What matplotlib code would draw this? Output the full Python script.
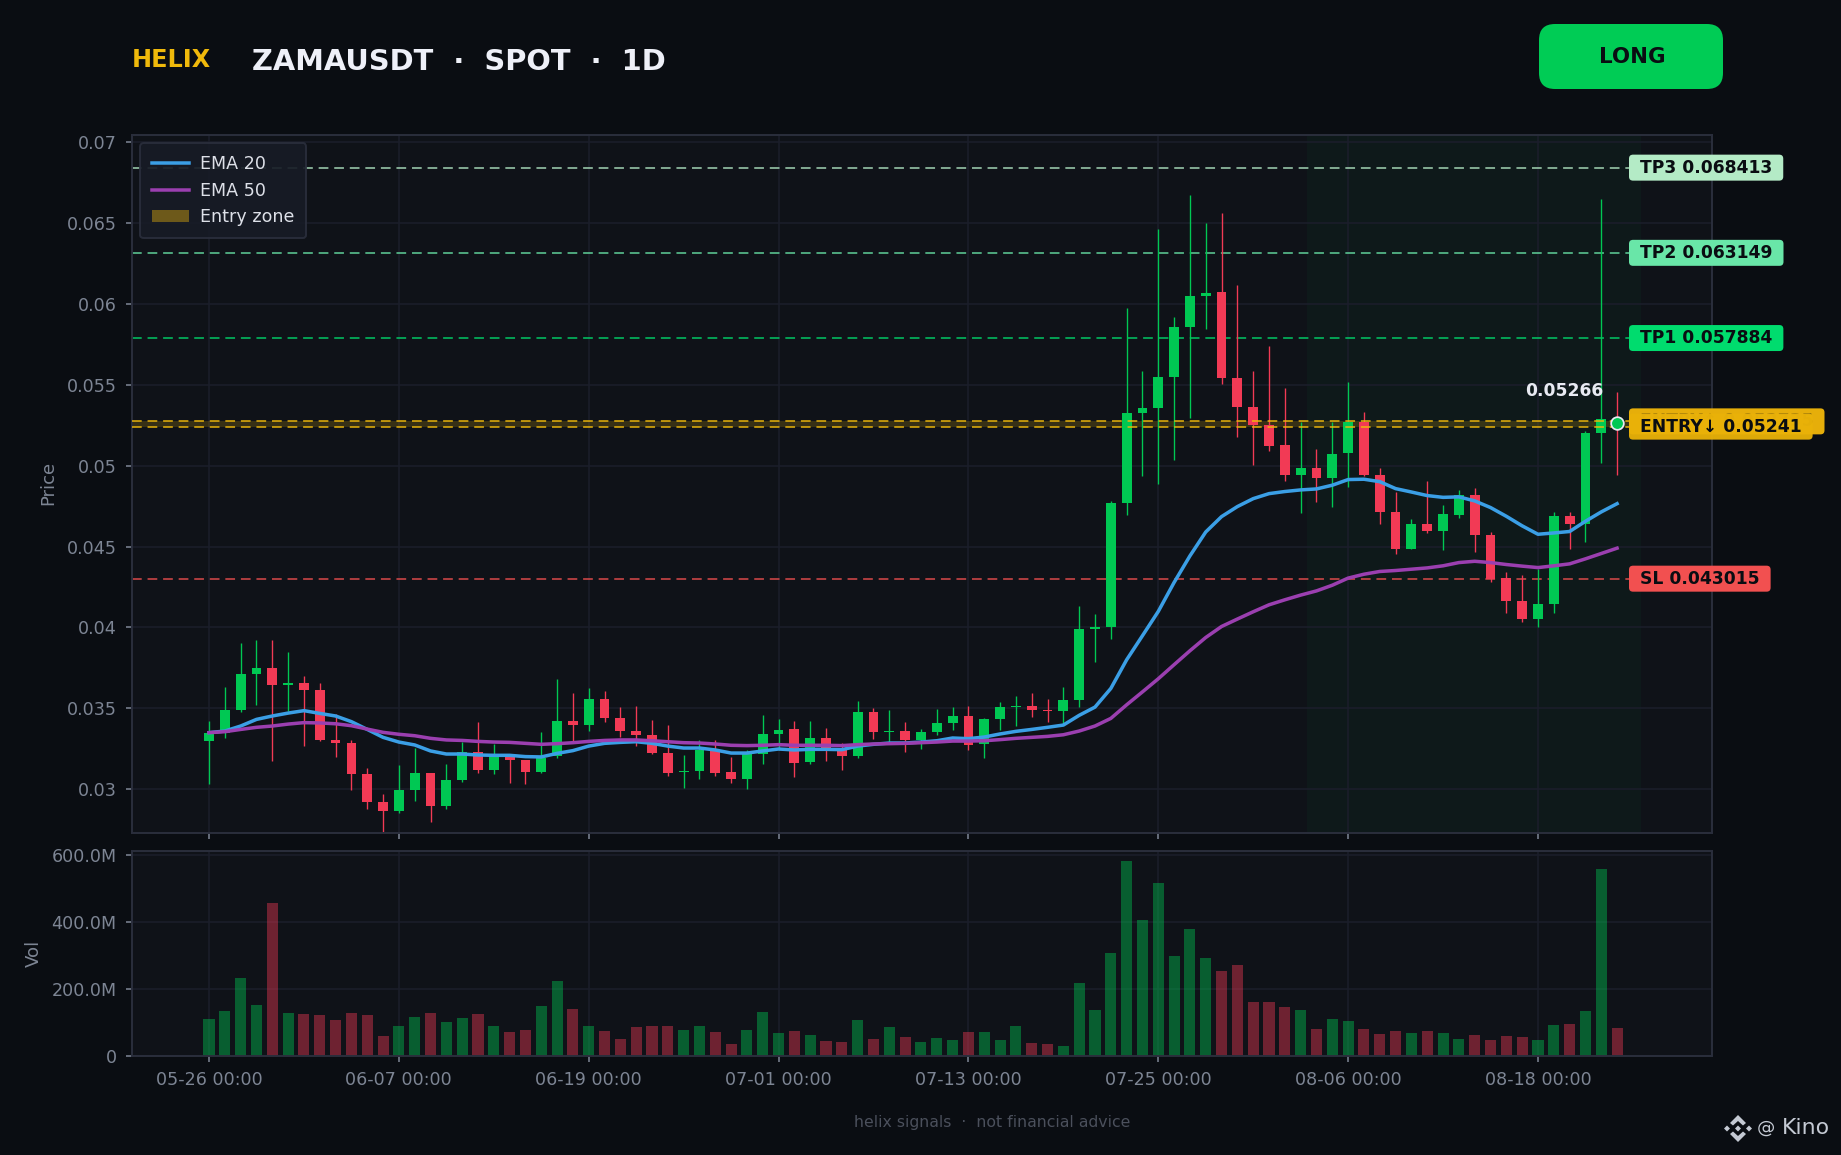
import matplotlib
matplotlib.use("Agg")
import matplotlib.pyplot as plt
from matplotlib.patches import FancyBboxPatch, Polygon, Patch
from matplotlib.lines import Line2D
from matplotlib.transforms import IdentityTransform

W, H, DPI = 1841, 1155, 140

opens = [.03300,.03346,.03490,.03712,.03749,.03646,.03656,.03613,.03305,.03286,.03095,.02922,.02866,.02996,.03101,.02897,.03058,.03230,.03119,.03212,
         .03181,.03107,.03206,.03422,.03397,.03558,.03440,.03360,.03335,.03224,.03107,.03113,.03243,.03107,.03064,.03218,.03342,.03372,.03169,.03317,
         .03253,.03206,.03477,.03354,.03360,.03305,.03354,.03410,.03453,.03280,.03434,.03508,.03514,.03490,.03484,.03551,.03990,.04002,.04768,.05323,
         .05354,.05545,.05854,.06051,.06070,.05539,.05360,.05249,.05126,.04940,.04984,.04922,.05076,.05267,.04940,.04712,.04484,.04638,.04595,.04693,
         .04817,.04570,.04304,.04163,.04051,.04144,.04687,.04638,.05200,.05286]
closes = [.03346,.03490,.03712,.03749,.03644,.03656,.03613,.03305,.03286,.03095,.02922,.02866,.02996,.03101,.02897,.03058,.03230,.03119,.03212,.03181,
          .03107,.03193,.03422,.03397,.03558,.03440,.03360,.03335,.03224,.03101,.03113,.03243,.03101,.03064,.03218,.03342,.03366,.03163,.03317,.03253,
          .03206,.03477,.03354,.03360,.03305,.03354,.03410,.03453,.03274,.03434,.03508,.03514,.03490,.03484,.03551,.03990,.04002,.04768,.05323,.05354,
          .05545,.05854,.06051,.06064,.05539,.05360,.05249,.05120,.04940,.04984,.04922,.05070,.05267,.04940,.04712,.04484,.04638,.04595,.04700,.04817,
          .04570,.04302,.04163,.04051,.04144,.04687,.04638,.05200,.05286,.05266]
highs = [.03422,.03630,.03903,.03922,.03922,.03848,.03700,.03656,.03465,.03305,.03132,.02971,.03150,.03255,.03101,.03156,.03292,.03416,.03280,.03212,
         .03181,.03354,.03681,.03595,.03626,.03607,.03508,.03514,.03428,.03397,.03212,.03305,.03305,.03200,.03243,.03459,.03434,.03422,.03422,.03379,
         .03284,.03545,.03502,.03490,.03416,.03372,.03496,.03508,.03514,.03440,.03539,.03576,.03595,.03558,.03632,.04130,.04082,.04780,.05977,.05582,
         .06465,.05916,.06675,.06502,.06558,.06119,.05582,.05737,.05477,.05267,.05101,.05267,.05514,.05329,.04984,.04835,.04669,.04903,.04755,.04848,
         .04860,.04588,.04342,.04323,.04360,.04712,.04712,.05212,.06650,.05453]
lows = [.03035,.03319,.03480,.03521,.03175,.03484,.03267,.03298,.03200,.02996,.02879,.02737,.02854,.02928,.02798,.02879,.03045,.03101,.03095,.03039,
        .03033,.03101,.03193,.03292,.03360,.03416,.03323,.03267,.03218,.03082,.03008,.03064,.03082,.03039,.03002,.03156,.03243,.03076,.03156,.03175,
        .03119,.03193,.03311,.03280,.03230,.03249,.03335,.03366,.03243,.03193,.03366,.03391,.03447,.03416,.03403,.03508,.03786,.03928,.04693,.04934,
        .04885,.05033,.05292,.05842,.05502,.05175,.05002,.05088,.04903,.04706,.04774,.04743,.04866,.04934,.04638,.04453,.04484,.04582,.04477,.04675,
        .04465,.04280,.04088,.04033,.04002,.04088,.04484,.04527,.05014,.04940]
volumes = [111,135,231,153,455,129,126,123,108,129,123,61,88,117,129,102,114,126,90,72,
           78,150,225,141,88,76,52,85,88,88,78,88,72,37,78,132,70,76,64,46,
           43,108,52,85,58,43,55,49,73,73,49,88,40,37,31,219,138,308,580,404,
           517,297,380,293,252,270,162,162,147,138,79,111,105,79,67,76,70,76,70,52,
           64,49,61,58,49,91,94,135,556,82]
ema20 = [.03350,.03360,.03391,.03432,.03453,.03471,.03486,.03469,.03453,.03418,.03370,.03321,.03292,.03274,.03237,.03218,.03218,.03212,.03210,.03210,
         .03202,.03200,.03222,.03239,.03267,.03284,.03290,.03294,.03284,.03267,.03255,.03255,.03243,.03224,.03224,.03237,.03249,.03243,.03247,.03247,
         .03245,.03267,.03278,.03286,.03286,.03292,.03300,.03317,.03313,.03323,.03342,.03358,.03370,.03383,.03397,.03457,.03508,.03623,.03800,.03949,
         .04099,.04278,.04442,.04590,.04685,.04747,.04796,.04827,.04840,.04850,.04856,.04879,.04914,.04916,.04901,.04858,.04837,.04815,.04804,.04807,
         .04782,.04741,.04687,.04628,.04576,.04584,.04593,.04656,.04714,.04765]
ema50 = [.03350,.03356,.03370,.03383,.03391,.03403,.03412,.03410,.03405,.03393,.03372,.03352,.03340,.03331,.03315,.03305,.03302,.03296,.03292,.03290,
         .03284,.03278,.03282,.03288,.03296,.03302,.03305,.03305,.03300,.03294,.03288,.03286,.03280,.03272,.03270,.03272,.03276,.03272,.03272,.03272,
         .03270,.03276,.03280,.03282,.03284,.03288,.03292,.03298,.03298,.03300,.03307,.03315,.03321,.03327,.03337,.03360,.03391,.03438,.03522,.03602,
         .03683,.03770,.03856,.03938,.04006,.04052,.04097,.04140,.04171,.04200,.04226,.04261,.04305,.04329,.04346,.04352,.04360,.04368,.04381,.04401,
         .04409,.04401,.04389,.04379,.04370,.04381,.04393,.04424,.04457,.04490]

tick_idx = [0, 12, 24, 36, 48, 60, 72, 84]
tick_labels = ["05-26 00:00", "06-07 00:00", "06-19 00:00", "07-01 00:00",
               "07-13 00:00", "07-25 00:00", "08-06 00:00", "08-18 00:00"]
price_ticks = [.03, .035, .04, .045, .05, .055, .06, .065, .07]
price_tick_labels = ["0.03", "0.035", "0.04", "0.045", "0.05", "0.055", "0.06", "0.065", "0.07"]
vol_ticks = [0, 200, 400, 600]
vol_tick_labels = ["0", "200.0M", "400.0M", "600.0M"]

tp3, tp2, tp1, sl = 0.068413, 0.063149, 0.057884, 0.043015
entry_hi, entry_lo = 0.052735, 0.05241
last_price = 0.05266

BG = "#0A0D12"; PANEL = "#0F1218"; GRID = "#1B1E2B"; SPINE = "#2A2E3C"; TICK = "#7D8594"
UP = "#00C853"; DOWN = "#F23A55"; GOLD = "#F0B90B"
C_TP3 = "#B4EBC6"; C_TP2 = "#69E6A8"; C_TP1 = "#00DC6E"; C_SL = "#F25050"; INK = "#0A0D12"

plt.rcParams["font.family"] = "DejaVu Sans"
fig = plt.figure(figsize=(W / DPI, H / DPI), dpi=DPI, facecolor=BG)

def rect(l, t, r, b):
    return [l / W, 1 - b / H, (r - l) / W, (b - t) / H]

ax = fig.add_axes(rect(131.5, 135, 1712, 833))
vx = fig.add_axes(rect(131.5, 851, 1712, 1056))
xs = list(range(len(closes)))
colors = [UP if c >= o else DOWN for o, c in zip(opens, closes)]

for a in (ax, vx):
    a.set_facecolor(PANEL)
    a.set_xlim(-4.9, 95)
    a.grid(True, color=GRID, lw=0.8, zorder=0)
    a.set_axisbelow(True)
    for s in a.spines.values():
        s.set_color(SPINE); s.set_linewidth(1.0)
    a.tick_params(colors=TICK, labelsize=9, length=3.3, width=0.8, color=TICK, pad=4.4)
    a.set_xticks(tick_idx)

ax.set_ylim(0.0273, 0.07043)
ax.set_yticks(price_ticks); ax.set_yticklabels(price_tick_labels)
ax.tick_params(axis="x", labelbottom=False)
ax.axvspan(69.4, 90.5, color=UP, alpha=0.038, lw=0, zorder=0.5)

wicks = ax.vlines(xs, lows, highs, colors=colors, lw=0.7, zorder=2)
wicks.set_snap(True)
ax.bar(xs, [abs(c - o) for o, c in zip(opens, closes)], bottom=[min(o, c) for o, c in zip(opens, closes)],
       width=0.62, color=colors, lw=0, zorder=3)
ax.plot(xs, ema20, color="#3B9FE6", lw=1.8, zorder=4, label="EMA 20")
ax.plot(xs, ema50, color="#9B3FB0", lw=1.8, zorder=4, label="EMA 50")

dash = (0, (5, 3))
for lvl, col, al in [(tp3, C_TP3, 0.7), (tp2, C_TP2, 0.7), (tp1, C_TP1, 0.7), (sl, C_SL, 0.7)]:
    ax.axhline(lvl, color=col, lw=1, ls=dash, alpha=al, zorder=1.5)
ax.axhspan(entry_lo, entry_hi, color=GOLD, alpha=0.18, lw=0, zorder=1.5)
for lvl in (entry_hi, entry_lo):
    ax.axhline(lvl, color=GOLD, lw=1, ls=dash, alpha=0.75, zorder=5)

ax.plot([xs[-1]], [last_price], "o", ms=6.5, mfc=UP, mec="#E8EAF2", mew=0.9, zorder=7)
ax.annotate(f"{last_price:.5f}", (xs[-1], last_price), xytext=(-7, 11.5), textcoords="offset points",
            ha="right", va="bottom", fontsize=8.8, fontweight="bold", color="#E8EAF2", zorder=7)

ax.set_ylabel("Price", color=TICK, fontsize=9.3)
ax.yaxis.set_label_coords(-0.0468, 0.502)
handles = [Line2D([], [], color="#3B9FE6", lw=1.8), Line2D([], [], color="#9B3FB0", lw=1.8),
           Patch(facecolor=GOLD, alpha=0.4, lw=0)]
leg = ax.legend(handles, ["EMA 20", "EMA 50", "Entry zone"], loc="upper left", fontsize=9,
                bbox_to_anchor=(8.5 / 1580.5, 1 - 8 / 698), borderaxespad=0, borderpad=0.68, handlelength=2.1,
                handletextpad=0.66, facecolor="#171B26", edgecolor=SPINE, framealpha=0.92, labelcolor="#DDE0E8")
leg.set_zorder(8)

vx.bar(xs, volumes, width=0.7, color=colors, alpha=0.42, lw=0, zorder=2)
vx.set_ylim(0, 611)
vx.set_yticks(vol_ticks); vx.set_yticklabels(vol_tick_labels)
vx.set_xticklabels(tick_labels)
vx.set_ylabel("Vol", color=TICK, fontsize=9.3)
vx.yaxis.set_label_coords(-0.0558, 0.5)

# header
fig.text(131.5 / W, 1 - 67 / H, "HELIX", color=GOLD, fontsize=12.3, fontweight="bold", va="baseline")
fig.text(252 / W, 1 - 70 / H, "ZAMAUSDT  ·  SPOT  ·  1D", color="#EEF0F8", fontsize=14.85, fontweight="bold", va="baseline")

def rbox(x0, y_top, x1, y_bot, col, rad, alpha=1.0, z=10):
    p = FancyBboxPatch((x0, H - y_bot), x1 - x0, y_bot - y_top, boxstyle=f"round,pad=0,rounding_size={rad}",
                       fc=col, ec="none", alpha=alpha, transform=IdentityTransform(), zorder=z)
    fig.add_artist(p)

rbox(1539, 24, 1723, 89, "#00CC55", 16)
fig.text(1632 / W, 1 - 57 / H, "LONG", color=INK, fontsize=11, fontweight="bold", ha="center", va="center", zorder=11)

fig.canvas.draw()
renderer = fig.canvas.get_renderer()

def level_label(text, price, col, alpha=1.0, z=10, text_alpha=1.0):
    yc = H - ax.transData.transform((0, price))[1]
    t = fig.text(1640.5 / W, 1 - yc / H, text, color=INK, fontsize=8.8, fontweight="bold", va="center", ha="left",
                 zorder=z + 1, alpha=text_alpha)
    w = t.get_window_extent(renderer).width
    rbox(1629, yc - 13, 1640.5 + w + 10.5, yc + 13, col, 4, alpha, z)

level_label(f"TP3 {tp3:.6f}", tp3, C_TP3)
level_label(f"TP2 {tp2:.6f}", tp2, C_TP2)
level_label(f"TP1 {tp1:.6f}", tp1, C_TP1)
level_label(f"SL {sl:.6f}", sl, C_SL)
level_label(f"ENTRY↑ {entry_hi:.6f}", entry_hi, "#E6AE0A", z=10, text_alpha=0.35)
level_label(f"ENTRY↓ {entry_lo:.5f}", entry_lo, "#EAB208", alpha=0.95, z=12)

# footer
fig.text(992 / W, 1 - 1122 / H, "helix signals  ·  not financial advice", color="#4B505C", fontsize=8.1, ha="center", va="center")

# watermark
WM = "#C4C9D3"
def poly(pts):
    fig.add_artist(Polygon([(x, H - y) for x, y in pts], closed=True, fc=WM, ec="none",
                           transform=IdentityTransform(), zorder=10))
cx, cy = 1738, 1128.5
for dx, dy, r in [(0, 0, 3.0), (-11, 0, 3.0), (11, 0, 3.0)]:
    poly([(cx + dx - r, cy + dy), (cx + dx, cy + dy - r), (cx + dx + r, cy + dy), (cx + dx, cy + dy + r)])
for s in (-1, 1):
    poly([(cx, cy + s * 13.5), (cx + 8, cy + s * 5.5), (cx + 5, cy + s * 3), (cx, cy + s * 7.5),
          (cx - 5, cy + s * 3), (cx - 8, cy + s * 5.5)])
fig.text(1757 / W, 1 - 1128 / H, "@", color=WM, fontsize=9.4, ha="left", va="center", zorder=11)
fig.text(1782 / W, 1 - 1128 / H, "Kino", color=WM, fontsize=11.3, ha="left", va="center", zorder=11)

fig.savefig("out.png", dpi=DPI, facecolor=BG)
